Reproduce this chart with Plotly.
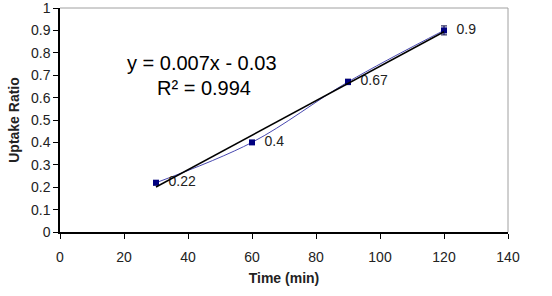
import numpy as np
import plotly.graph_objects as go

time_min = [30, 60, 90, 120]
uptake = [0.22, 0.40, 0.67, 0.90]
err = [0.01, 0.008, 0.012, 0.02]
labels = ["  0.22", "  0.4", "  0.67", "  0.9"]
eq_text = "y = 0.007x - 0.03"
r2_text = "R² = 0.994"

slope, intercept = np.polyfit(time_min, uptake, 1)
fit_x = [time_min[0], time_min[-1]]
fit_y = [slope * v + intercept for v in fit_x]

fig = go.Figure()
fig.add_trace(go.Scatter(
    x=time_min, y=uptake, mode="lines+markers+text",
    line=dict(color="#4848b0", width=1, shape="spline"),
    marker=dict(symbol="square", size=6, color="#000080"),
    error_y=dict(type="data", array=err, color="#000040", thickness=1, width=3),
    text=labels, textposition="middle right",
    textfont=dict(family="Arial", size=14, color="#222222"),
    cliponaxis=False, showlegend=False,
))
fig.add_trace(go.Scatter(
    x=fit_x, y=fit_y, mode="lines",
    line=dict(color="black", width=1.5), showlegend=False,
))
fig.add_annotation(
    x=0.318, y=0.754, xref="paper", yref="paper", showarrow=False,
    xanchor="center", yanchor="middle",
    text=eq_text, font=dict(family="Arial", size=20, color="black"),
)
fig.add_annotation(
    x=0.3225, y=0.643, xref="paper", yref="paper", showarrow=False,
    xanchor="center", yanchor="middle",
    text=r2_text, font=dict(family="Arial", size=20, color="black"),
)
fig.update_layout(
    width=552, height=296,
    margin=dict(l=60, r=44, t=8, b=64, autoexpand=False),
    paper_bgcolor="white", plot_bgcolor="white",
    font=dict(family="Arial", size=14, color="#222222"),
)
fig.update_xaxes(
    range=[0, 140], dtick=20, showgrid=False, zeroline=False, automargin=False,
    showline=True, linecolor="black", linewidth=1.5, ticklabeloverflow="allow",
    ticks="outside", ticklen=5, tickcolor="black", ticklabelstandoff=6,
    title=dict(text="<b>Time (min)</b>", font=dict(size=14, family="Arial"), standoff=10),
)
fig.update_yaxes(
    range=[0, 1], dtick=0.1, showgrid=False, zeroline=False, automargin=False,
    showline=True, linecolor="black", linewidth=1.5, ticklabeloverflow="allow",
    ticks="outside", ticklen=5, tickcolor="black",
    title=dict(text="<b>Uptake Ratio</b>", font=dict(size=14, family="Arial"), standoff=8),
)
fig.add_shape(type="line", xref="paper", yref="paper", x0=0, x1=1, y0=1, y1=1,
              line=dict(color="#a0a0a0", width=1))
fig.add_shape(type="line", xref="paper", yref="paper", x0=1, x1=1, y0=0, y1=1,
              line=dict(color="#a0a0a0", width=1))
fig.write_html("out.html")
